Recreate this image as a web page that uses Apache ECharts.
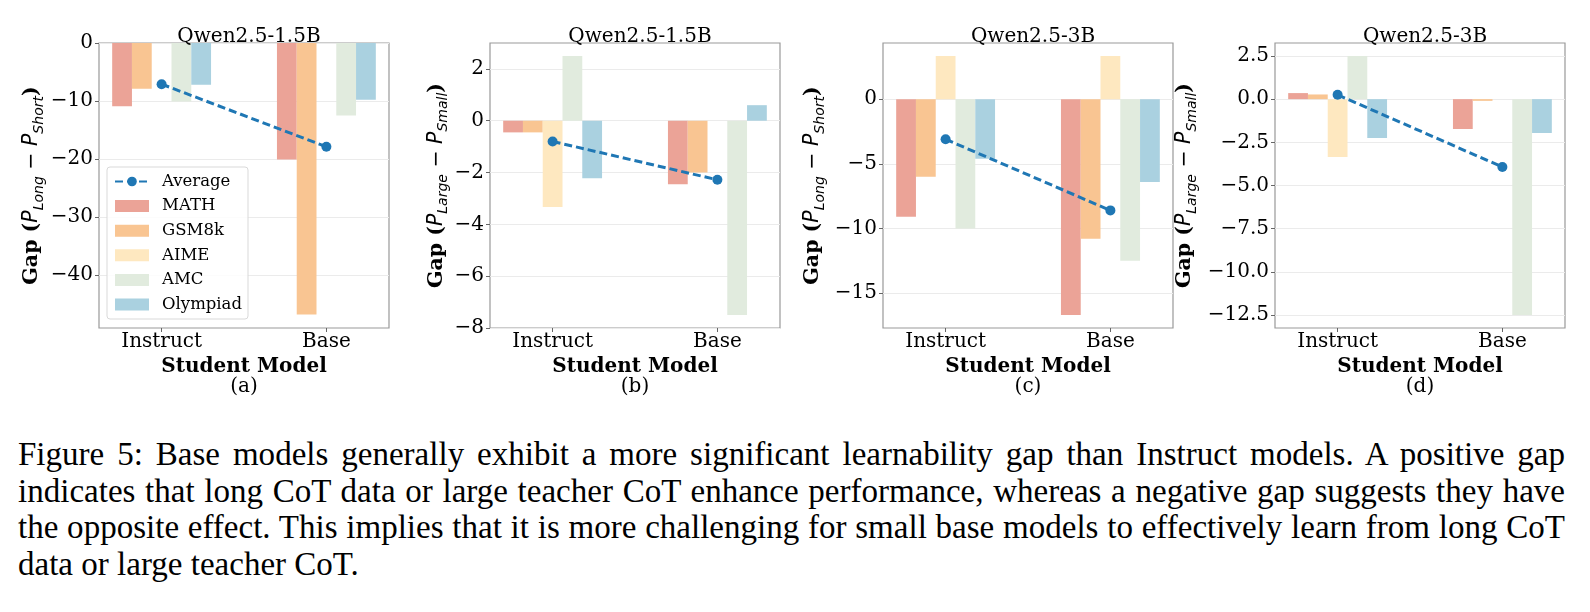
<!DOCTYPE html>
<html>
<head>
<meta charset="utf-8">
<script src="https://cdn.jsdelivr.net/npm/echarts@6/dist/echarts.min.js"></script>
<style>
  html, body { margin: 0; padding: 0; background: #fff; }
  #wrap { position: relative; width: 1590px; height: 612px; }
  #chart { position: absolute; left: 0; top: 0; width: 1590px; height: 420px; }
  #caption { position: absolute; left: 18px; top: 436px; width: 1547px;
    font-family: "Liberation Serif", "Times New Roman", serif; font-size: 30px; line-height: 36.7px; color: #000; }
  #caption div { white-space: nowrap; text-align: justify; text-align-last: justify; }
  #caption div.last { text-align-last: left; }
</style>
</head>
<body>
<div id="wrap">
  <div id="chart"></div>
  <div id="caption">
    <div>Figure 5: Base models generally exhibit a more significant learnability gap than Instruct models. A positive gap</div>
    <div>indicates that long CoT data or large teacher CoT enhance performance, whereas a negative gap suggests they have</div>
    <div>the opposite effect. This implies that it is more challenging for small base models to effectively learn from long CoT</div>
    <div class="last">data or large teacher CoT.</div>
  </div>
</div>
<script>
// ---------------- DATA ----------------
const categories = ['Instruct', 'Base'];
const datasetNames = ['MATH', 'GSM8k', 'AIME', 'AMC', 'Olympiad'];
const panelTitles = ['Qwen2.5-1.5B', 'Qwen2.5-1.5B', 'Qwen2.5-3B', 'Qwen2.5-3B'];
const panelTags = ['(a)', '(b)', '(c)', '(d)'];

// (a) Qwen2.5-1.5B, Long - Short
const aMATH = [-10.9, -20.1];
const aGSM8k = [-7.9, -46.8];
const aAIME = [0, 0];
const aAMC = [-10.1, -12.5];
const aOlympiad = [-7.2, -9.8];
const aAverage = [-7.1, -17.9];
const aTicks = [0, -10, -20, -30, -40];

// (b) Qwen2.5-1.5B, Large - Small
const bMATH = [-0.45, -2.45];
const bGSM8k = [-0.45, -2.0];
const bAIME = [-3.33, 0];
const bAMC = [2.5, -7.5];
const bOlympiad = [-2.22, 0.6];
const bAverage = [-0.8, -2.28];
const bTicks = [2, 0, -2, -4, -6, -8];

// (c) Qwen2.5-3B, Long - Short
const cMATH = [-9.1, -16.7];
const cGSM8k = [-6.0, -10.8];
const cAIME = [3.35, 3.35];
const cAMC = [-10.0, -12.5];
const cOlympiad = [-4.6, -6.4];
const cAverage = [-3.1, -8.6];
const cTicks = [0, -5, -10, -15];

// (d) Qwen2.5-3B, Large - Small
const dMATH = [0.35, -1.73];
const dGSM8k = [0.27, -0.1];
const dAIME = [-3.35, 0];
const dAMC = [2.5, -12.5];
const dOlympiad = [-2.25, -1.96];
const dAverage = [0.25, -3.93];
const dTicks = [2.5, 0, -2.5, -5, -7.5, -10, -12.5];

// ---------------- STYLE / LAYOUT ----------------
const colors = ['#EBA397', '#F9C592', '#FEE8C0', '#E1EBDE', '#AAD1E0'];
const avgColor = '#1f77b4';
const FONT = 'DejaVu Serif';
const FS = 20;
const BAR_W = 0.12;
const gridLefts = [99, 490, 883, 1275];
const gridTop = 43, gridH = 285, gridW = 290;
const nameGaps = [53, 38, 56, 76];

const panels = [
  { bars: [aMATH, aGSM8k, aAIME, aAMC, aOlympiad], avg: aAverage, ticks: aTicks, dec: 0, kind: 'ls' },
  { bars: [bMATH, bGSM8k, bAIME, bAMC, bOlympiad], avg: bAverage, ticks: bTicks, dec: 0, kind: 'lg' },
  { bars: [cMATH, cGSM8k, cAIME, cAMC, cOlympiad], avg: cAverage, ticks: cTicks, dec: 0, kind: 'ls' },
  { bars: [dMATH, dGSM8k, dAIME, dAMC, dOlympiad], avg: dAverage, ticks: dTicks, dec: 1, kind: 'lg' }
];

function yRange(p) {
  const all = [].concat(...p.bars, p.avg, [0]);
  const mn = Math.min(...all), mx = Math.max(...all);
  const pad = 0.05 * (mx - mn);
  return [mn === 0 ? 0 : mn - pad, mx === 0 ? 0 : mx + pad];
}
function fmt(v, dec) {
  const s = Math.abs(v).toFixed(dec);
  return (v < 0 ? '\u2212' : '') + s;
}
function yName(kind) {
  return kind === 'ls'
    ? '{b|Gap (}{m|P}{s|Long}{o| \u2212 }{m|P}{s|Short}{b|)}'
    : '{b|Gap (}{m|P}{s|Large}{o| \u2212 }{m|P}{s|Small}{b|)}';
}
const nameRich = {
  b: { fontFamily: FONT, fontWeight: 'bold', fontSize: 20.5, color: '#000', lineHeight: 28 },
  m: { fontFamily: 'DejaVu Sans', fontStyle: 'italic', fontSize: 20.5, color: '#000', lineHeight: 28 },
  o: { fontFamily: 'DejaVu Sans', fontSize: 20.5, color: '#000', lineHeight: 28 },
  s: { fontFamily: 'DejaVu Sans', fontStyle: 'italic', fontSize: 14, color: '#000', lineHeight: 28, verticalAlign: 'bottom' }
};

const grids = [], xAxes = [], yAxes = [], series = [], titles = [], graphics = [];
panels.forEach((p, k) => {
  const rng = yRange(p);
  grids.push({ left: gridLefts[k], top: gridTop, width: gridW, height: gridH,
    show: true, borderColor: '#999', borderWidth: 1.2, backgroundColor: '#fff' });
  xAxes.push({
    type: 'value', gridIndex: k, min: -0.38, max: 1.38,
    axisLine: { show: false, onZero: false }, splitLine: { show: false },
    axisTick: { show: true, customValues: [0, 1], length: 4, lineStyle: { color: '#666' } },
    axisLabel: { customValues: [0, 1], margin: 4, fontFamily: FONT, fontSize: FS, color: '#000',
      formatter: v => categories[Math.round(v)] },
    name: 'Student Model', nameLocation: 'middle', nameGap: 23,
    nameTextStyle: { fontFamily: FONT, fontWeight: 'bold', fontSize: FS, color: '#000' }
  });
  yAxes.push({
    type: 'value', gridIndex: k, min: rng[0], max: rng[1],
    axisLine: { show: false, onZero: false },
    axisTick: { show: true, customValues: p.ticks, length: 4, lineStyle: { color: '#666' } },
    axisLabel: { customValues: p.ticks, margin: 6, fontFamily: FONT, fontSize: FS, color: '#000',
      formatter: v => fmt(v, p.dec) },
    splitLine: { show: true, lineStyle: { color: '#ebebeb', width: 1 } },
    name: yName(p.kind), nameLocation: 'middle', nameRotate: 90, nameGap: nameGaps[k],
    nameTextStyle: { rich: nameRich }
  });
  p.bars.forEach((vals, j) => {
    const offset = (j - 2) * BAR_W;
    series.push({
      type: 'custom', name: datasetNames[j], xAxisIndex: k, yAxisIndex: k,
      itemStyle: { color: colors[j] }, z: 2,
      encode: { x: 0, y: 1 },
      data: categories.map((c, i) => [i, vals[i]]),
      renderItem: (params, api) => {
        const x = api.value(0) + offset;
        const v = api.value(1);
        const p0 = api.coord([x, 0]);
        const p1 = api.coord([x, v]);
        const w = api.size([BAR_W, 0])[0];
        return { type: 'rect',
          shape: { x: p0[0] - w / 2, y: Math.min(p0[1], p1[1]), width: w, height: Math.abs(p1[1] - p0[1]) },
          style: { fill: colors[j] } };
      }
    });
  });
  series.push({
    type: 'line', name: 'Average', xAxisIndex: k, yAxisIndex: k, z: 5,
    data: categories.map((c, i) => [i, p.avg[i]]),
    symbol: 'circle', symbolSize: 10,
    itemStyle: { color: avgColor },
    lineStyle: { color: avgColor, width: 3, type: [8, 4] }
  });
  titles.push({ text: panelTitles[k], left: gridLefts[k] + gridW / 2, top: 22, textAlign: 'center',
    textStyle: { fontFamily: FONT, fontWeight: 'normal', fontSize: FS, color: '#000' } });
  graphics.push({ type: 'text', x: gridLefts[k] + gridW / 2, y: 387,
    style: { text: panelTags[k], fontFamily: FONT, fontSize: FS, fill: '#000', align: 'center', verticalAlign: 'middle' } });
});

const chart = echarts.init(document.getElementById('chart'), null, { renderer: 'canvas' });
chart.setOption({
  animation: false,
  backgroundColor: '#fff',
  title: titles,
  grid: grids,
  xAxis: xAxes,
  yAxis: yAxes,
  legend: {
    orient: 'vertical', left: 107, top: 167,
    data: [{ name: 'Average' }].concat(datasetNames.map(n => ({ name: n, icon: 'rect' }))),
    itemWidth: 34, itemHeight: 12, itemGap: 7.6,
    padding: [6, 6, 6, 7],
    backgroundColor: 'rgba(255,255,255,0.85)', borderColor: '#d9d9d9', borderWidth: 1, borderRadius: 3,
    textStyle: { fontFamily: FONT, fontSize: 16.5, color: '#000', lineHeight: 16, padding: [0, 0, 0, 8] }
  },
  graphic: graphics,
  series: series
});

// fit caption font so its justified lines have natural word spacing
(function fitCaption() {
  const cap = document.getElementById('caption');
  const lines = Array.from(cap.querySelectorAll('div'));
  const probe = document.createElement('span');
  probe.style.whiteSpace = 'nowrap';
  probe.style.visibility = 'hidden';
  probe.style.position = 'absolute';
  cap.appendChild(probe);
  let maxW = 0;
  lines.slice(0, 3).forEach(l => { probe.textContent = l.textContent; maxW = Math.max(maxW, probe.getBoundingClientRect().width); });
  cap.removeChild(probe);
  const target = 1538;
  const fs = 30 * target / maxW;
  cap.style.fontSize = fs.toFixed(2) + 'px';
})();
</script>
</body>
</html>
